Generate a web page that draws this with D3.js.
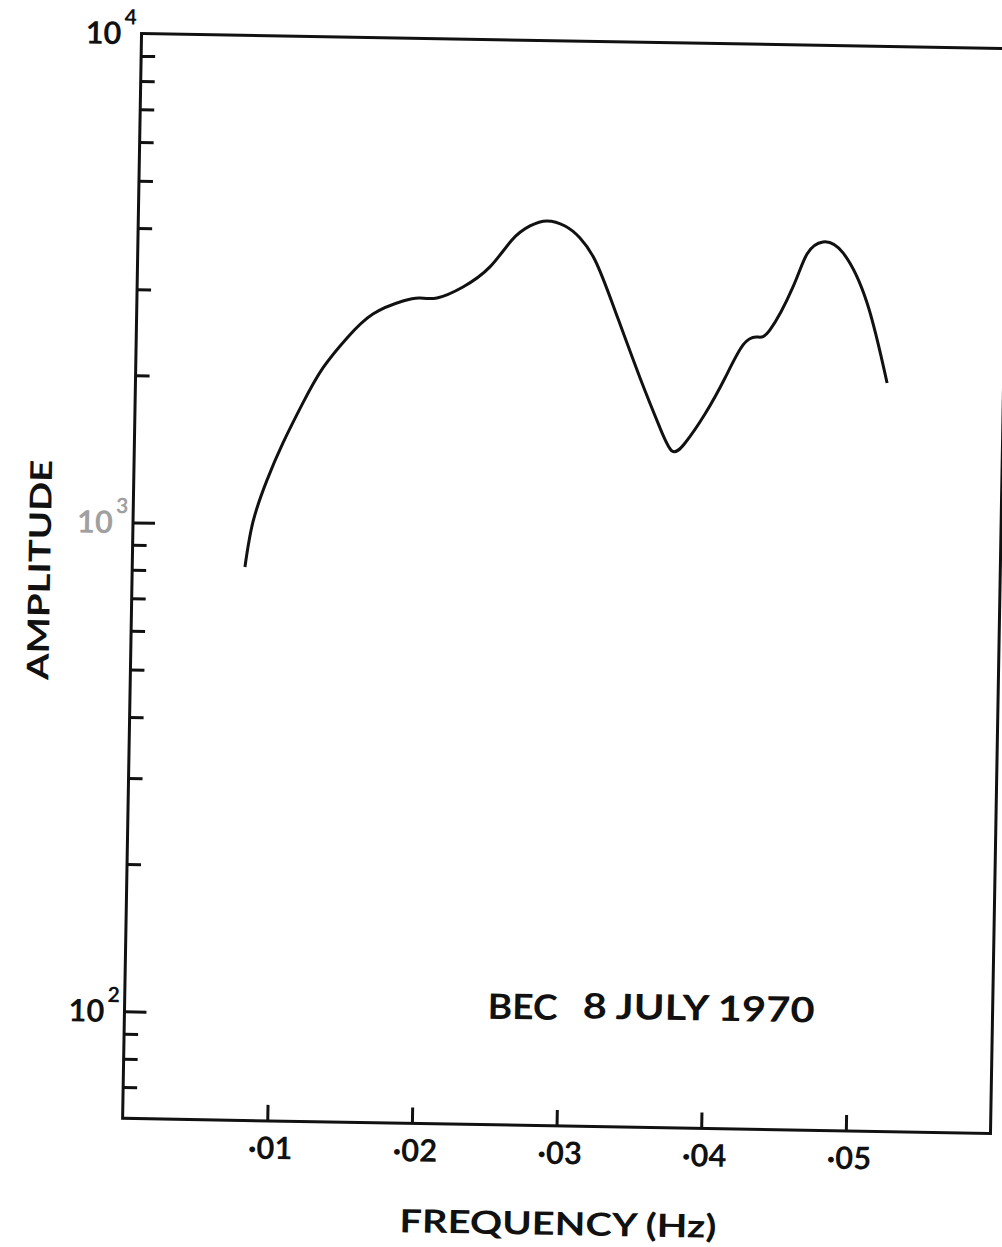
<!DOCTYPE html>
<html>
<head>
<meta charset="utf-8">
<script src="https://cdn.jsdelivr.net/npm/d3@7"></script>
<style>
    body { margin: 0; background: #fff; }
    text { font-family: Lato, "DejaVu Sans", sans-serif; fill: #111; }
</style>
</head>
<body>
<svg id="chart" width="1002" height="1247"></svg>
<script>
//Spectrum (frequency in Hz, amplitude)
var frequency = [0.00779, 0.00829, 0.00921, 0.01027, 0.0116, 0.01294, 0.01457, 0.01633, 0.01839, 0.01956,
    0.02074, 0.02252, 0.02436, 0.02585, 0.02708, 0.02825, 0.0295, 0.03055, 0.03161, 0.03291,
    0.03487, 0.03631, 0.03717, 0.03806, 0.0394, 0.04074, 0.04195, 0.0429, 0.04379, 0.04533,
    0.04626, 0.04735, 0.04875, 0.05047, 0.05195];
var amplitude = [818, 1012, 1234, 1472, 1780, 2102, 2426, 2721, 2900, 2946,
    2950, 3113, 3429, 3900, 4173, 4278, 4184, 3960, 3573, 2896,
    2057, 1629, 1463, 1521, 1746, 2072, 2425, 2520, 2608, 3199,
    3741, 3964, 3770, 2985, 2051];

var xTicks = [0.01, 0.02, 0.03, 0.04, 0.05];
var xTickLabels = ["·01", "·02", "·03", "·04", "·05"];
var yMajor = [100, 1000, 10000];
var yMajorExp = ["2", "3", "4"];
var yMinor = [70, 80, 90, 200, 300, 400, 500, 600, 700, 800, 900,
    2000, 3000, 4000, 5000, 6000, 7000, 8000, 9000];
var freqDomain = [0, 0.06];
var ampDomain = [60.4, 10000];

var plotLeft = 132, plotRight = 1000, plotTop = 41, plotBottom = 1126;

var x = d3.scaleLinear().domain(freqDomain).range([plotLeft, plotRight]);
var y = d3.scaleLog().domain(ampDomain).range([plotBottom, plotTop]);

//whole sheet is scanned slightly askew
var g = d3.select("#chart")
    .append("g")
    .attr("transform", "rotate(1, 566, 584)");

//y ticks point inward from the left edge
var yMajorAxis = g.append("g")
    .attr("transform", "translate(" + plotLeft + ",0)")
    .call(d3.axisRight(y).tickValues(yMajor.slice(0, 2)).tickSize(22).tickFormat(""));
var yMinorAxis = g.append("g")
    .attr("transform", "translate(" + plotLeft + ",0)")
    .call(d3.axisRight(y).tickValues(yMinor).tickSize(14).tickFormat(""));

//x ticks point up from the bottom edge, labels below
var xAxis = g.append("g")
    .attr("transform", "translate(0," + plotBottom + ")")
    .call(d3.axisBottom(x).tickValues(xTicks).tickSize(-16)
        .tickFormat(function (d, i) { return xTickLabels[i]; }));

[yMajorAxis, yMinorAxis, xAxis].forEach(function (a) {
    a.select(".domain").remove();
    a.selectAll("line").attr("stroke", "#111").attr("stroke-width", 3);
});

xAxis.selectAll("text")
    .attr("y", 38)
    .attr("dy", null)
    .attr("dx", 3)
    .attr("font-size", "31px")
    .attr("font-weight", "bold")
    .attr("fill", "#111");

//frame
g.append("rect")
    .attr("x", plotLeft)
    .attr("y", plotTop)
    .attr("width", plotRight - plotLeft)
    .attr("height", plotBottom - plotTop)
    .attr("fill", "none")
    .attr("stroke", "#111")
    .attr("stroke-width", 3);

//decade labels 10^n
yMajor.forEach(function (v, i) {
    var col = i == 1 ? "#a0a0a0" : "#111";
    g.append("text")
        .attr("x", plotLeft - 20)
        .attr("y", y(v) + 11)
        .attr("text-anchor", "end")
        .attr("font-size", "31px")
        .attr("font-weight", "bold")
        .style("fill", col)
        .text("10");
    g.append("text")
        .attr("x", plotLeft - 5)
        .attr("y", y(v) - 9)
        .attr("text-anchor", "end")
        .attr("font-size", "21px")
        .attr("font-weight", "bold")
        .style("fill", col)
        .text(yMajorExp[i]);
});

//spectrum curve
var pts = frequency.map(function (f, i) { return [f, amplitude[i]]; });
var line = d3.line()
    .x(function (d) { return x(d[0]); })
    .y(function (d) { return y(d[1]); })
    .curve(d3.curveNatural);

g.append("path")
    .datum(pts)
    .attr("d", line)
    .attr("fill", "none")
    .attr("stroke", "#111")
    .attr("stroke-width", 3);

//annotation
g.append("text")
    .attr("x", 530)
    .attr("y", 1020)
    .attr("text-anchor", "middle")
    .attr("font-size", "35px")
    .attr("font-weight", "bold")
    .attr("textLength", 70)
    .attr("lengthAdjust", "spacingAndGlyphs")
    .text("BEC");
g.append("text")
    .attr("x", 706)
    .attr("y", 1018)
    .attr("text-anchor", "middle")
    .attr("font-size", "35px")
    .attr("font-weight", "bold")
    .attr("textLength", 232)
    .attr("lengthAdjust", "spacingAndGlyphs")
    .text("8 JULY 1970");

//axis titles
g.append("text")
    .attr("x", 569)
    .attr("y", 1235)
    .attr("text-anchor", "middle")
    .attr("font-size", "32px")
    .attr("font-weight", "bold")
    .attr("textLength", 317)
    .attr("lengthAdjust", "spacingAndGlyphs")
    .text("FREQUENCY (Hz)");

g.append("text")
    .attr("transform", "translate(50,579) rotate(-90)")
    .attr("text-anchor", "middle")
    .attr("font-size", "30px")
    .attr("font-weight", "bold")
    .attr("textLength", 220)
    .attr("lengthAdjust", "spacingAndGlyphs")
    .text("AMPLITUDE");
</script>
</body>
</html>
